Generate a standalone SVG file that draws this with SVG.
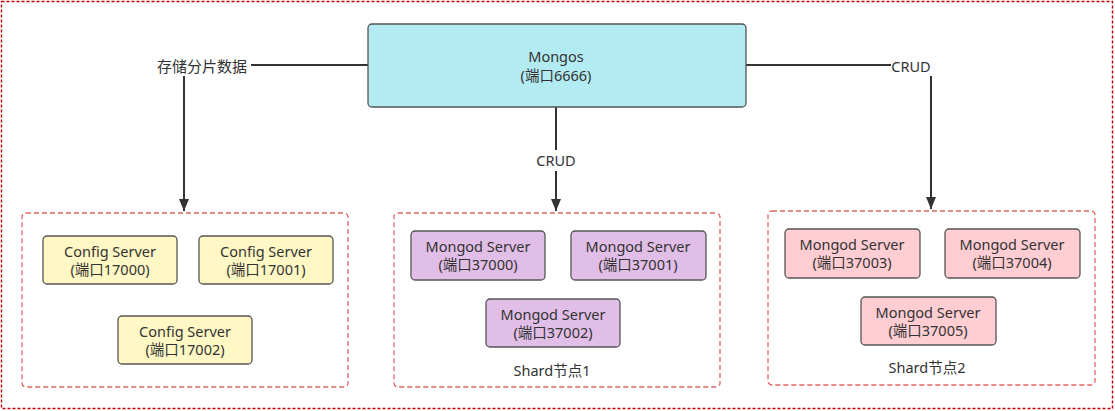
<svg xmlns="http://www.w3.org/2000/svg" width="1115" height="411" viewBox="0 0 1115 411">
<defs>
<marker id="arr" viewBox="0 0 12 10" refX="12" refY="5" markerWidth="12" markerHeight="10" markerUnits="userSpaceOnUse" orient="auto">
<path d="M0,0 L12,5 L0,10 Z" fill="#333"/>
</marker>
</defs>
<style>
text{font-family:"Noto Sans","Noto Sans CJK SC",sans-serif;font-size:14.5px;fill:#333;text-anchor:middle}
.cjk{font-size:15px}
.node{stroke:#555;stroke-width:1.3}
.mongos{fill:#b3ebf2}
.cfg{fill:#fff8c4}
.s1{fill:#e1bee7}
.s2{fill:#ffcdd2}
.grp{fill:none;stroke:#e06666;stroke-width:1.3;stroke-dasharray:5 3}
.conn{fill:none;stroke:#333;stroke-width:2}
</style>
<rect x="1.5" y="1.5" width="1111" height="407" fill="none" stroke="#c00000" stroke-width="1.4" stroke-dasharray="3 2"/>

<g id="groups">
<rect id="g-config" class="grp" x="22" y="213" width="326" height="174" rx="4"/>
<rect id="g-shard1" class="grp" x="394" y="213" width="326" height="174" rx="4"/>
<rect id="g-shard2" class="grp" x="768" y="211" width="327" height="174" rx="4"/>
</g>

<g id="connectors">
<polyline class="conn" points="368,65 251,65"/>
<polyline class="conn" points="184,76 184,211" marker-end="url(#arr)"/>
<text class="cjk" x="202" y="72">存储分片数据</text>
<polyline class="conn" points="556,107 556,150"/>
<polyline class="conn" points="556,171 556,211" marker-end="url(#arr)"/>
<text x="556" y="166">CRUD</text>
<polyline class="conn" points="746,65 891,65"/>
<polyline class="conn" points="931,76 931,209" marker-end="url(#arr)"/>
<text x="911" y="72">CRUD</text>
</g>

<g id="mongos">
<rect class="node mongos" x="368" y="24" width="378" height="83" rx="4"/>
<text x="556" y="62">Mongos</text>
<text x="556" y="81">(端口6666)</text>
</g>

<g id="cfg0"><rect class="node cfg" x="43" y="236" width="134" height="48" rx="4"/><text x="110" y="257">Config Server</text><text x="110" y="275">(端口17000)</text></g>
<g id="cfg1"><rect class="node cfg" x="199" y="236" width="134" height="48" rx="4"/><text x="266" y="257">Config Server</text><text x="266" y="275">(端口17001)</text></g>
<g id="cfg2"><rect class="node cfg" x="118" y="316" width="134" height="48" rx="4"/><text x="185" y="337">Config Server</text><text x="185" y="355">(端口17002)</text></g>

<g id="m37000"><rect class="node s1" x="411" y="231" width="134" height="49" rx="4"/><text x="478" y="252">Mongod Server</text><text x="478" y="270">(端口37000)</text></g>
<g id="m37001"><rect class="node s1" x="571" y="231" width="135" height="49" rx="4"/><text x="638" y="252">Mongod Server</text><text x="638" y="270">(端口37001)</text></g>
<g id="m37002"><rect class="node s1" x="486" y="299" width="134" height="48" rx="4"/><text x="553" y="320">Mongod Server</text><text x="553" y="338">(端口37002)</text></g>
<text x="552" y="376">Shard节点1</text>

<g id="m37003"><rect class="node s2" x="785" y="229" width="135" height="49" rx="4"/><text x="852" y="250">Mongod Server</text><text x="852" y="268">(端口37003)</text></g>
<g id="m37004"><rect class="node s2" x="945" y="229" width="135" height="49" rx="4"/><text x="1012" y="250">Mongod Server</text><text x="1012" y="268">(端口37004)</text></g>
<g id="m37005"><rect class="node s2" x="861" y="297" width="135" height="48" rx="4"/><text x="928" y="318">Mongod Server</text><text x="928" y="336">(端口37005)</text></g>
<text x="927" y="373">Shard节点2</text>
</svg>
